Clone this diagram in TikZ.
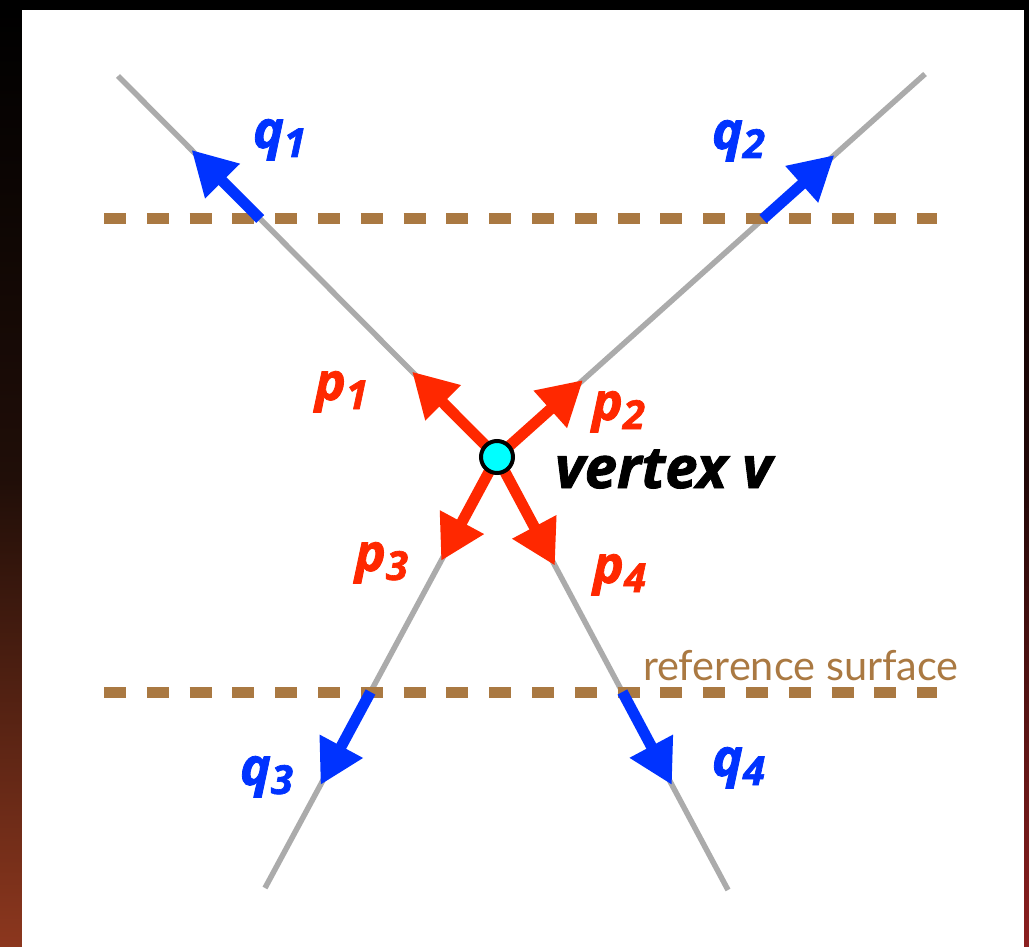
\documentclass[tikz,border=0pt]{standalone}
\usepackage{fontspec}
\setmainfont{Open Sans}
\newfontfamily\heavyfont[BoldItalicFeatures={FakeBold=1.6}]{Open Sans}
\newfontfamily\surfacefont{Lato}
\usetikzlibrary{arrows.meta,calc}
\definecolor{VertexTrack}{gray}{0.67}
\definecolor{VertexRed}{RGB}{255,40,0}
\definecolor{VertexBlue}{RGB}{0,51,255}
\definecolor{VertexCyan}{RGB}{0,255,255}
\definecolor{VertexSurface}{RGB}{170,121,66}
\definecolor{SlideRust}{RGB}{140,55,30}
\definecolor{SlideRustMid}{RGB}{32,14,8}
\definecolor{SlideWine}{RGB}{140,32,32}
\definecolor{SlideWineMid}{RGB}{34,8,8}
\newcommand{\momlabel}[2]{#1\raisebox{-9pt}{\fontsize{40}{40}\selectfont #2}}
\tikzset{
    vx/diagram/.style={
        x=1pt, y=-1pt,
        line cap=butt,
        every node/.style={inner sep=0pt, outer sep=0pt}
    },
    vx/track/.style={draw=VertexTrack, line width=5.5pt},
    vx/incoming/.style={
        draw=VertexRed, line width=11pt,
        -{Triangle[length=44pt, width=47pt]}
    },
    vx/outgoing/.style={
        draw=VertexBlue, line width=11pt,
        -{Triangle[length=44pt, width=46pt]}
    },
    vx/surface/.style={
        draw=VertexSurface, line width=11pt,
        dash pattern=on 22pt off 20.8pt
    },
    vx/vertex/.style={
        circle, draw=black, fill=VertexCyan,
        line width=4pt, minimum size=32pt
    },
    vx/label/.style={anchor=base west, font=\heavyfont\fontsize{52}{60}\selectfont\bfseries\itshape},
    vx/plabel/.style={vx/label, text=VertexRed},
    vx/qlabel/.style={vx/label, text=VertexBlue},
    vx/name/.style={anchor=base west, font=\heavyfont\fontsize{58}{66}\selectfont\bfseries\itshape, text=black},
    vx/surfacelabel/.style={
        anchor=base west, text=VertexSurface,
        font=\surfacefont\fontsize{41.5}{48}\selectfont
    }
}
\begin{document}
\begin{tikzpicture}[vx/diagram]
    \useasboundingbox (0,0) rectangle (1029,947);
    \fill[black] (0,0) rectangle (1029,947);
    \shade[top color=black, bottom color=SlideRust, middle color=SlideRustMid]
        (0,10) rectangle (22,947);
    \shade[top color=black, bottom color=SlideWine, middle color=SlideWineMid]
        (1024,10) rectangle (1029,947);
    \fill[white] (22,10) rectangle (1024,947);

    \coordinate (v) at (497,457);
    \coordinate (e1) at (118,76);
    \coordinate (e2) at (925,74);
    \coordinate (e3) at (265,888);
    \coordinate (e4) at (728,890);
    \coordinate (top west) at (104,219);
    \coordinate (top east) at (937,219);
    \coordinate (low west) at (104,692);
    \coordinate (low east) at (937,692);

    \foreach \i in {1,...,4}
        \draw[vx/track] (v) -- (e\i);
    \draw[vx/surface] (top west) -- (top east);
    \draw[vx/surface] (low west) -- (low east);

    \foreach \i/\tail/\head in {1/0.6247/0.806, 2/0.6214/0.7885, 3/0.5452/0.761, 4/0.5427/0.7575} {
        \coordinate (q\i tail) at ($(v)!\tail!(e\i)$);
        \coordinate (q\i head) at ($(v)!\head!(e\i)$);
        \draw[vx/outgoing] (q\i tail) -- (q\i head);
    }
    \foreach \i/\t in {1/0.224, 2/0.201, 3/0.241, 4/0.251} {
        \coordinate (p\i head) at ($(v)!\t!(e\i)$);
        \draw[vx/incoming] (v) -- (p\i head);
    }
    \node[vx/vertex] (vtx) at (v) {};

    \node[vx/qlabel] (q1lab) at (253,148) {\momlabel{q}{1}};
    \node[vx/qlabel] (q2lab) at (712,149) {\momlabel{q}{2}};
    \node[vx/qlabel] (q3lab) at (240,785) {\momlabel{q}{3}};
    \node[vx/qlabel] (q4lab) at (712,776) {\momlabel{q}{4}};
    \node[vx/plabel] (p1lab) at (315,400) {\momlabel{p}{1}};
    \node[vx/plabel] (p2lab) at (592,420) {\momlabel{p}{2}};
    \node[vx/plabel] (p3lab) at (355,571) {\momlabel{p}{3}};
    \node[vx/plabel] (p4lab) at (593,583) {\momlabel{p}{4}};
    \node[vx/name] (vname) at (555,488) {vertex v};
    \node[vx/surfacelabel] (surflab) at (643,680) {reference surface};
\end{tikzpicture}
\end{document}
